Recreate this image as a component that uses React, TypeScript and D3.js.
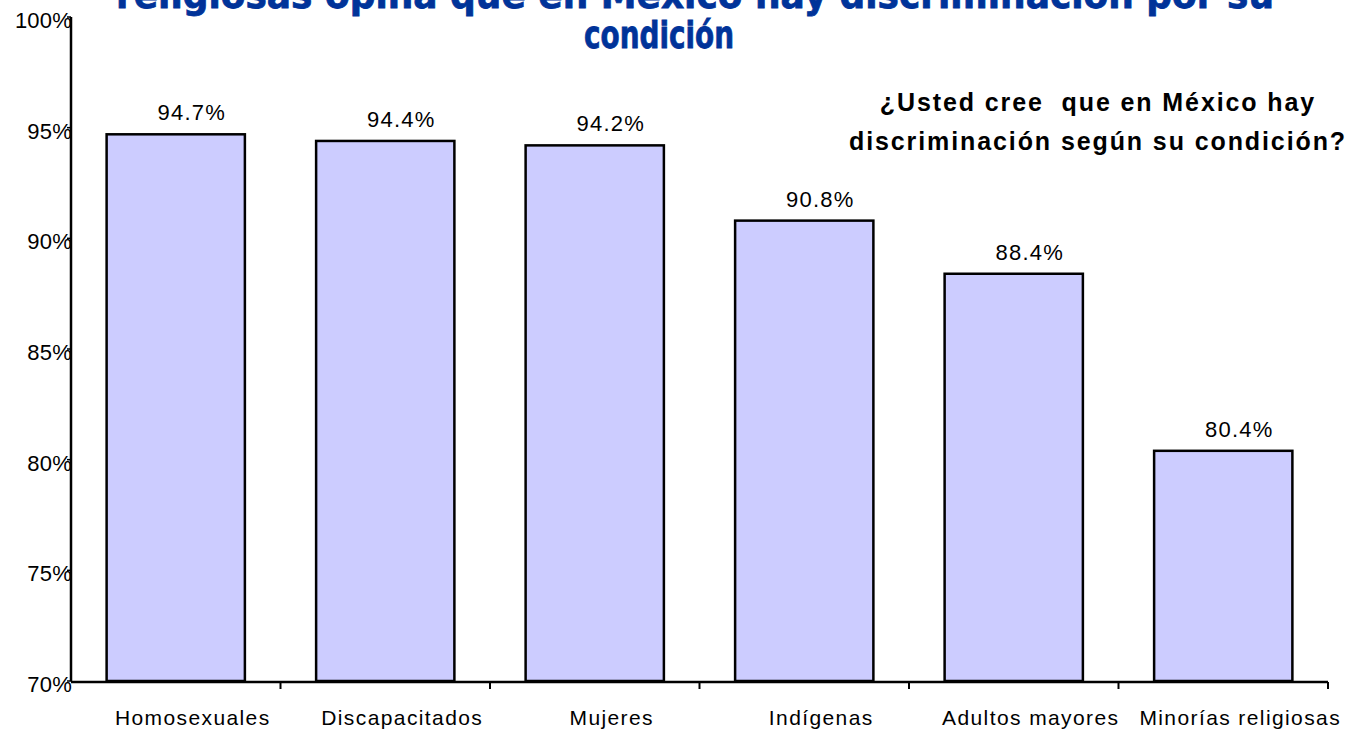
import React, { useEffect, useRef } from 'react';
import * as d3 from 'd3';

const categories = ['Homosexuales', 'Discapacitados', 'Mujeres', 'Indígenas', 'Adultos mayores', 'Minorías religiosas'];
const values = [94.7, 94.4, 94.2, 90.8, 88.4, 80.4];
const yTicks = [70, 75, 80, 85, 90, 95, 100];
const titleLines = ['religiosas opina que en México hay discriminación por su', 'condición'];
const noteLines = ['¿Usted cree  que en México hay', 'discriminación según su condición?'];

const W = 1348;
const H = 732;

const App: React.FC = () => {
  const ref = useRef<SVGSVGElement>(null);

  useEffect(() => {
    if (!ref.current) return;
    const svg = d3.select(ref.current);
    svg.selectAll('*').remove();

    const left = 71;
    const right = 1328;
    const top = 17;
    const bottom = 681;

    const x = d3.scaleBand<string>().domain(categories).range([left, right]).paddingInner(0.34).paddingOuter(0.17);
    const y = d3.scaleLinear().domain([70, 100]).range([bottom, top]);

    // title (top part cut off like the original)
    const title = svg
      .append('g')
      .attr('fill', '#003399')
      .attr('stroke', '#003399')
      .attr('stroke-width', 0.8)
      .style('font-family', '"DejaVu Sans", sans-serif')
      .style('font-weight', 'bold');
    title
      .append('text')
      .attr('x', 116)
      .attr('y', 8)
      .attr('textLength', 1158)
      .attr('lengthAdjust', 'spacingAndGlyphs')
      .style('font-size', '38px')
      .text(titleLines[0]);
    title
      .append('text')
      .attr('x', 584)
      .attr('y', 48)
      .attr('textLength', 150)
      .attr('lengthAdjust', 'spacingAndGlyphs')
      .style('font-size', '38px')
      .text(titleLines[1]);

    // bars
    svg
      .append('g')
      .selectAll('rect')
      .data(values)
      .enter()
      .append('rect')
      .attr('x', (_, i) => x(categories[i])!)
      .attr('y', (d) => y(d))
      .attr('width', x.bandwidth())
      .attr('height', (d) => y(70) - y(d))
      .attr('fill', '#CCCCFF')
      .attr('stroke', '#000')
      .attr('stroke-width', 2.5);

    // value labels
    svg
      .append('g')
      .selectAll('text')
      .data(values)
      .enter()
      .append('text')
      .attr('x', (_, i) => x(categories[i])! + x.bandwidth() / 2 + 16)
      .attr('y', (d) => y(d) - 14)
      .attr('text-anchor', 'middle')
      .style('font-family', '"Liberation Sans", Arial, sans-serif')
      .style('font-size', '22px')
      .style('letter-spacing', '1.2px')
      .text((d) => `${d.toFixed(1)}%`);

    // y axis
    const ya = svg.append('g');
    ya.append('line').attr('x1', left).attr('x2', left).attr('y1', top).attr('y2', bottom).attr('stroke', '#000').attr('stroke-width', 2.5);
    ya.selectAll('line.t')
      .data(yTicks)
      .enter()
      .append('line')
      .attr('class', 't')
      .attr('x1', left - 4)
      .attr('x2', left)
      .attr('y1', (d) => y(d))
      .attr('y2', (d) => y(d))
      .attr('stroke', '#000')
      .attr('stroke-width', 1.5);
    ya.selectAll('text')
      .data(yTicks)
      .enter()
      .append('text')
      .attr('x', left + 1)
      .attr('y', (d) => y(d) + 11)
      .attr('text-anchor', 'end')
      .style('font-family', '"Liberation Sans", Arial, sans-serif')
      .style('font-size', '22px')
      .style('letter-spacing', '0.2px')
      .text((d) => `${d}%`);

    // x axis
    const xa = svg.append('g');
    xa.append('line').attr('x1', left).attr('x2', right).attr('y1', bottom + 1).attr('y2', bottom + 1).attr('stroke', '#000').attr('stroke-width', 2.5);
    const bounds = categories.map((c) => x(c)! - (x.step() * 0.34) / 2 + x.step());
    xa.selectAll('line.t')
      .data(bounds)
      .enter()
      .append('line')
      .attr('class', 't')
      .attr('x1', (d) => d)
      .attr('x2', (d) => d)
      .attr('y1', bottom + 1)
      .attr('y2', bottom + 8)
      .attr('stroke', '#000')
      .attr('stroke-width', 2);
    xa.selectAll('text')
      .data(categories)
      .enter()
      .append('text')
      .attr('x', (d) => x(d)! + x.bandwidth() / 2 + 17)
      .attr('y', 725)
      .attr('text-anchor', 'middle')
      .style('font-family', '"Liberation Sans", Arial, sans-serif')
      .style('font-size', '21px')
      .style('letter-spacing', '1.4px')
      .text((d) => d);

    // question note
    svg
      .append('g')
      .selectAll('text')
      .data(noteLines)
      .enter()
      .append('text')
      .attr('x', 1098)
      .attr('y', (_, i) => 111 + i * 39)
      .attr('text-anchor', 'middle')
      .style('font-family', '"Liberation Sans", Arial, sans-serif')
      .style('font-size', '25px')
      .style('font-weight', 'bold')
      .style('letter-spacing', '1.9px')
      .style('white-space', 'pre')
      .text((d) => d);
  }, []);

  return <svg ref={ref} width={W} height={H} style={{ position: 'absolute', left: 0, top: 0, background: '#fff' }} />;
};

export default App;
